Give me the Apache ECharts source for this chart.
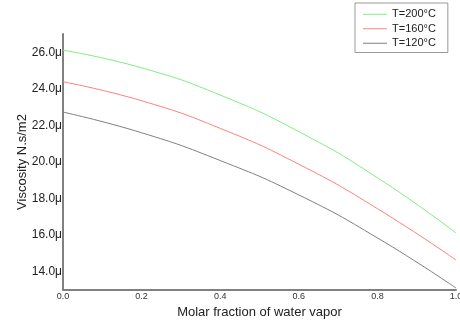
<!DOCTYPE html>
<html>
<head>
<meta charset="utf-8">
<script src="https://cdn.jsdelivr.net/npm/echarts@6/dist/echarts.min.js"></script>
<style>html,body{margin:0;padding:0;background:#fff}#c{width:460px;height:324px}</style>
</head>
<body>
<div id="c"></div>
<script>
var xValues = [0.0, 0.2, 0.4, 0.6, 0.8, 1.0];
var seriesNames = ['T=200°C', 'T=160°C', 'T=120°C'];
var t200 = [26.12, 25.15, 23.66, 21.66, 19.14, 16.12];
var t160 = [24.39, 23.35, 21.84, 19.88, 17.45, 14.64];
var t120 = [22.73, 21.60, 20.08, 18.20, 15.85, 13.11];
var colors = ['#80ee80', '#ff8080', '#808080'];

function pairs(vals){ return xValues.map(function(x,i){ return [x, vals[i]]; }); }
var font = 'Liberation Sans, Arial, sans-serif';
var chart = echarts.init(document.getElementById('c'));
chart.setOption({
  animation: false,
  backgroundColor: '#fff',
  grid: {left: 63, top: 34, right: 4, bottom: 34, containLabel: false, outerBoundsMode: 'none'},
  legend: {
    orient: 'vertical', left: 355, top: 3,
    padding: [4, 12, 2, 8],
    borderColor: '#999', borderWidth: 1,
    itemGap: 0, itemWidth: 24, itemHeight: 1, icon: 'rect',
    textStyle: {fontFamily: font, fontSize: 11, color: '#222', lineHeight: 14.5},
    data: seriesNames
  },
  xAxis: {
    type: 'value', min: 0, max: 1, interval: 0.2,
    name: 'Molar fraction of water vapor', nameLocation: 'middle', nameGap: 15,
    nameTextStyle: {fontFamily: font, fontSize: 13, color: '#222'},
    axisLine: {show: true, lineStyle: {color: '#808080', width: 2}},
    axisTick: {show: false},
    splitLine: {show: false},
    axisLabel: {fontFamily: font, fontSize: 9, color: '#333', margin: 2,
      formatter: function(v){ return v.toFixed(1); }}
  },
  yAxis: {
    type: 'value', min: 13, max: 27, interval: 1,
    name: 'Viscosity N.s/m2', nameLocation: 'middle', nameGap: 34, nameMoveOverlap: false,
    nameTextStyle: {fontFamily: font, fontSize: 13, color: '#222'},
    axisLine: {show: true, lineStyle: {color: '#808080', width: 2}},
    axisTick: {show: false},
    splitLine: {show: false},
    axisLabel: {fontFamily: font, fontSize: 12, color: '#222', margin: 1,
      showMinLabel: false, showMaxLabel: false,
      formatter: function(v){ return (Math.round(v) % 2 === 0) ? v.toFixed(1) + 'μ' : ''; }}
  },
  series: [
    {name: seriesNames[0], type: 'line', smooth: true, showSymbol: false, symbol: 'none', data: pairs(t200), lineStyle: {width: 1, color: colors[0]}, itemStyle: {color: colors[0]}},
    {name: seriesNames[1], type: 'line', smooth: true, showSymbol: false, symbol: 'none', data: pairs(t160), lineStyle: {width: 1, color: colors[1]}, itemStyle: {color: colors[1]}},
    {name: seriesNames[2], type: 'line', smooth: true, showSymbol: false, symbol: 'none', data: pairs(t120), lineStyle: {width: 1, color: colors[2]}, itemStyle: {color: colors[2]}}
  ]
});
</script>
</body>
</html>
